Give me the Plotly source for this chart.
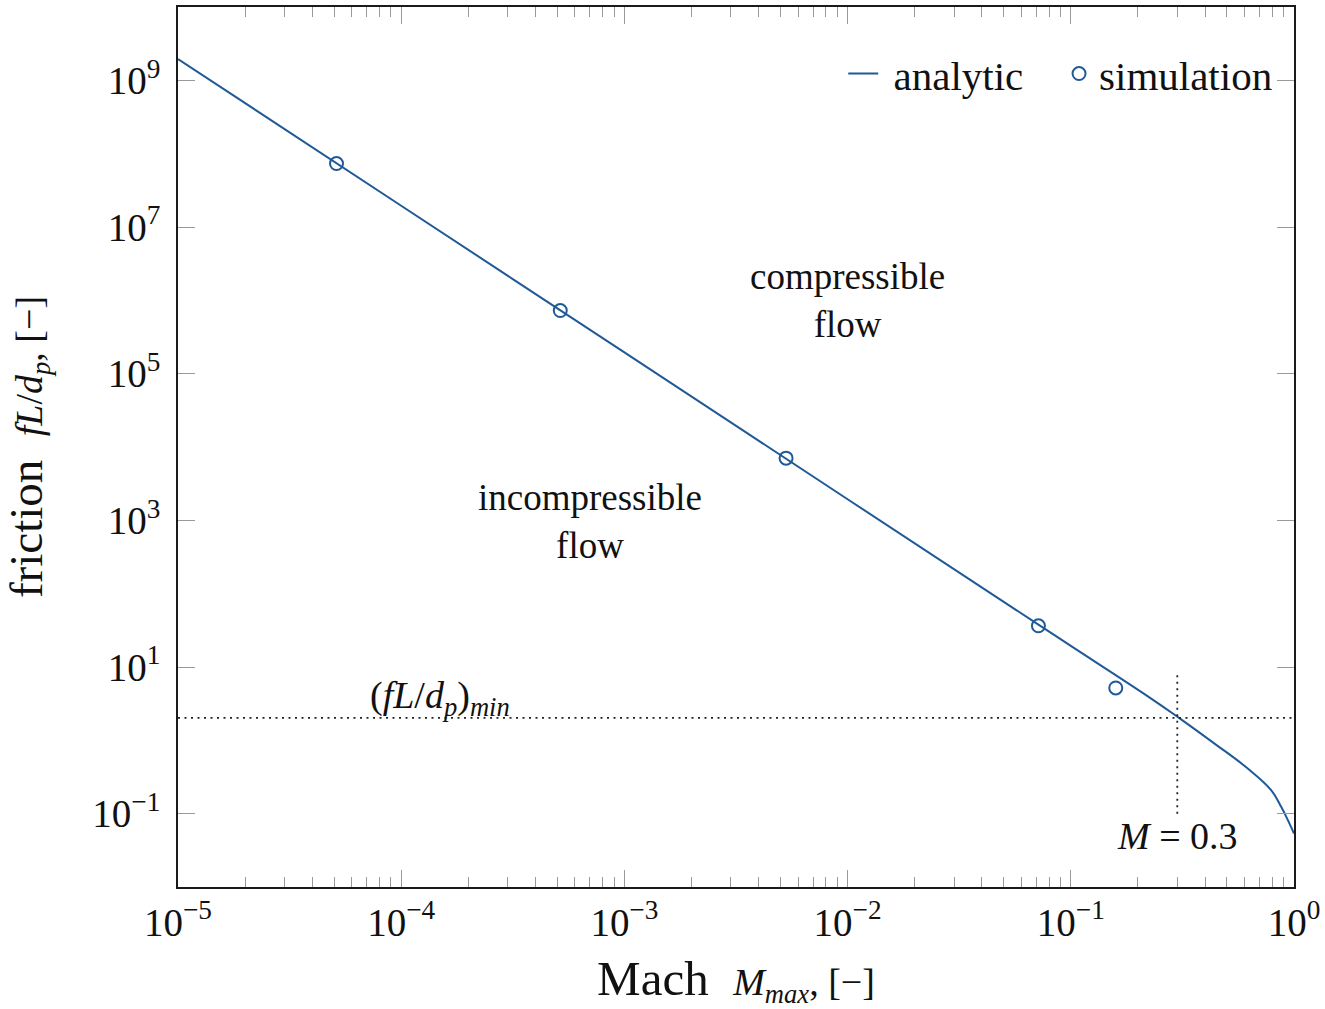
import numpy as np
import plotly.graph_objects as go

# ---------------- data ----------------
analytic_M = [1e-5, 1e-4, 1e-3, 1e-2, 0.0716, 0.1, 0.2223, 0.303, 0.442, 0.6226, 0.7914, 0.8773, 0.940, 1.0]
analytic_f = [1.95e9, 1.95e7, 1.95e5, 1.94e3, 37.8, 19.4, 3.95, 2.06, 0.896, 0.409, 0.2075, 0.123, 0.081, 0.0535]

sim_M = [5.13e-5, 5.16e-4, 5.30e-3, 0.0716, 0.159]
sim_f = [7.33e7, 7.26e5, 7.05e3, 36.5, 5.18]

f_min = 2.02          # (fL/d_p)_min dotted level
M_crit = 0.3          # M = 0.3 marker line
M_crit_top = 8.5      # upper end of vertical dotted line
M_crit_bottom = 0.1   # lower end of vertical dotted line

x_major = [1e-5, 1e-4, 1e-3, 1e-2, 1e-1, 1e0]
x_major_text = ["10<sup>−5</sup>", "10<sup>−4</sup>", "10<sup>−3</sup>",
                "10<sup>−2</sup>", "10<sup>−1</sup>", "10<sup>0</sup>"]
y_major = [1e-1, 1e1, 1e3, 1e5, 1e7, 1e9]
y_major_text = ["10<sup>−1</sup>", "10<sup>1</sup>", "10<sup>3</sup>",
                "10<sup>5</sup>", "10<sup>7</sup>", "10<sup>9</sup>"]
x_minor = [d * 10.0 ** e for e in range(-5, 0) for d in range(2, 10)]

BLUE = "#1f5a96"
FONT = "Liberation Serif, DejaVu Serif, serif"
TICKC = "#9a9a9a"

fig = go.Figure()

fig.add_trace(go.Scatter(
    x=analytic_M, y=analytic_f, mode="lines", name="&nbsp;analytic&nbsp;&nbsp;&nbsp;",
    line=dict(color=BLUE, width=2, shape="spline", smoothing=1.2),
))
fig.add_trace(go.Scatter(
    x=sim_M, y=sim_f, mode="markers", name="simulation",
    marker=dict(symbol="circle-open", size=13, color=BLUE, line=dict(width=2, color=BLUE)),
))
# dotted guide lines
fig.add_trace(go.Scatter(
    x=[x_major[0], x_major[-1]], y=[f_min, f_min], mode="lines", showlegend=False,
    line=dict(color="#222", width=1.8, dash="2px,4.5px"), hoverinfo="skip",
))
fig.add_trace(go.Scatter(
    x=[M_crit, M_crit], y=[M_crit_bottom, M_crit_top], mode="lines", showlegend=False,
    line=dict(color="#222", width=1.8, dash="2px,4.5px"), hoverinfo="skip",
))

axis_common = dict(
    type="log", showgrid=False, zeroline=False,
    showline=True, linecolor="#1a1a1a", linewidth=1.6, mirror="ticks",
    ticks="inside", ticklen=17, tickwidth=1.2, tickcolor=TICKC,
    tickmode="array", tickfont=dict(family=FONT, size=39, color="#111"),
)

fig.update_layout(
    width=1325, height=1009,
    margin=dict(l=178, r=29, t=5, b=122),
    paper_bgcolor="white", plot_bgcolor="white",
    font=dict(family=FONT, color="#111"),
    showlegend=True,
    legend=dict(
        orientation="h", x=0.985, xanchor="right", y=0.924, yanchor="middle",
        bgcolor="rgba(0,0,0,0)", font=dict(family=FONT, size=41, color="#111"),
        itemwidth=30,
    ),
    xaxis=dict(
        **axis_common, range=[-5, 0],
        tickvals=x_major, ticktext=x_major_text,
        minor=dict(ticks="inside", ticklen=10, tickwidth=1.2, tickcolor=TICKC,
                   tickvals=x_minor, showgrid=False),
        title=dict(
            text="Mach&nbsp;&nbsp;<span style='font-size:38px'><i>M</i><sub><i>max</i></sub>,&nbsp;[−]</span>",
            font=dict(family=FONT, size=49, color="#111"), standoff=20,
        ),
    ),
    yaxis=dict(
        **axis_common, range=[-2, 10],
        tickvals=y_major, ticktext=y_major_text, ticklabelstandoff=8,
        title=dict(
            text="friction&nbsp;&nbsp;<span style='font-size:38px'><i>fL</i>/<i>d<sub>p</sub></i>,&nbsp;[−]</span>",
            font=dict(family=FONT, size=47, color="#111"), standoff=40,
        ),
    ),
)

ann_font = dict(family=FONT, size=37, color="#111")
fig.add_annotation(x=np.log10(1e-2), y=6.0, xref="x", yref="y",
                   text="compressible<br>flow", showarrow=False, font=ann_font)
fig.add_annotation(x=np.log10(7.03e-4), y=2.984, xref="x", yref="y",
                   text="incompressible<br>flow", showarrow=False, font=ann_font)
fig.add_annotation(x=-3.828, y=0.58, xref="x", yref="y",
                   text="(<i>fL</i>/<i>d<sub>p</sub></i>)<sub><i>min</i></sub>",
                   showarrow=False, font=dict(family=FONT, size=38, color="#111"))
fig.add_annotation(x=np.log10(M_crit), y=-1.309, xref="x", yref="y",
                   text="<i>M</i>&nbsp;=&nbsp;0.3", showarrow=False,
                   font=dict(family=FONT, size=38, color="#111"))

fig.write_html("out.html")
